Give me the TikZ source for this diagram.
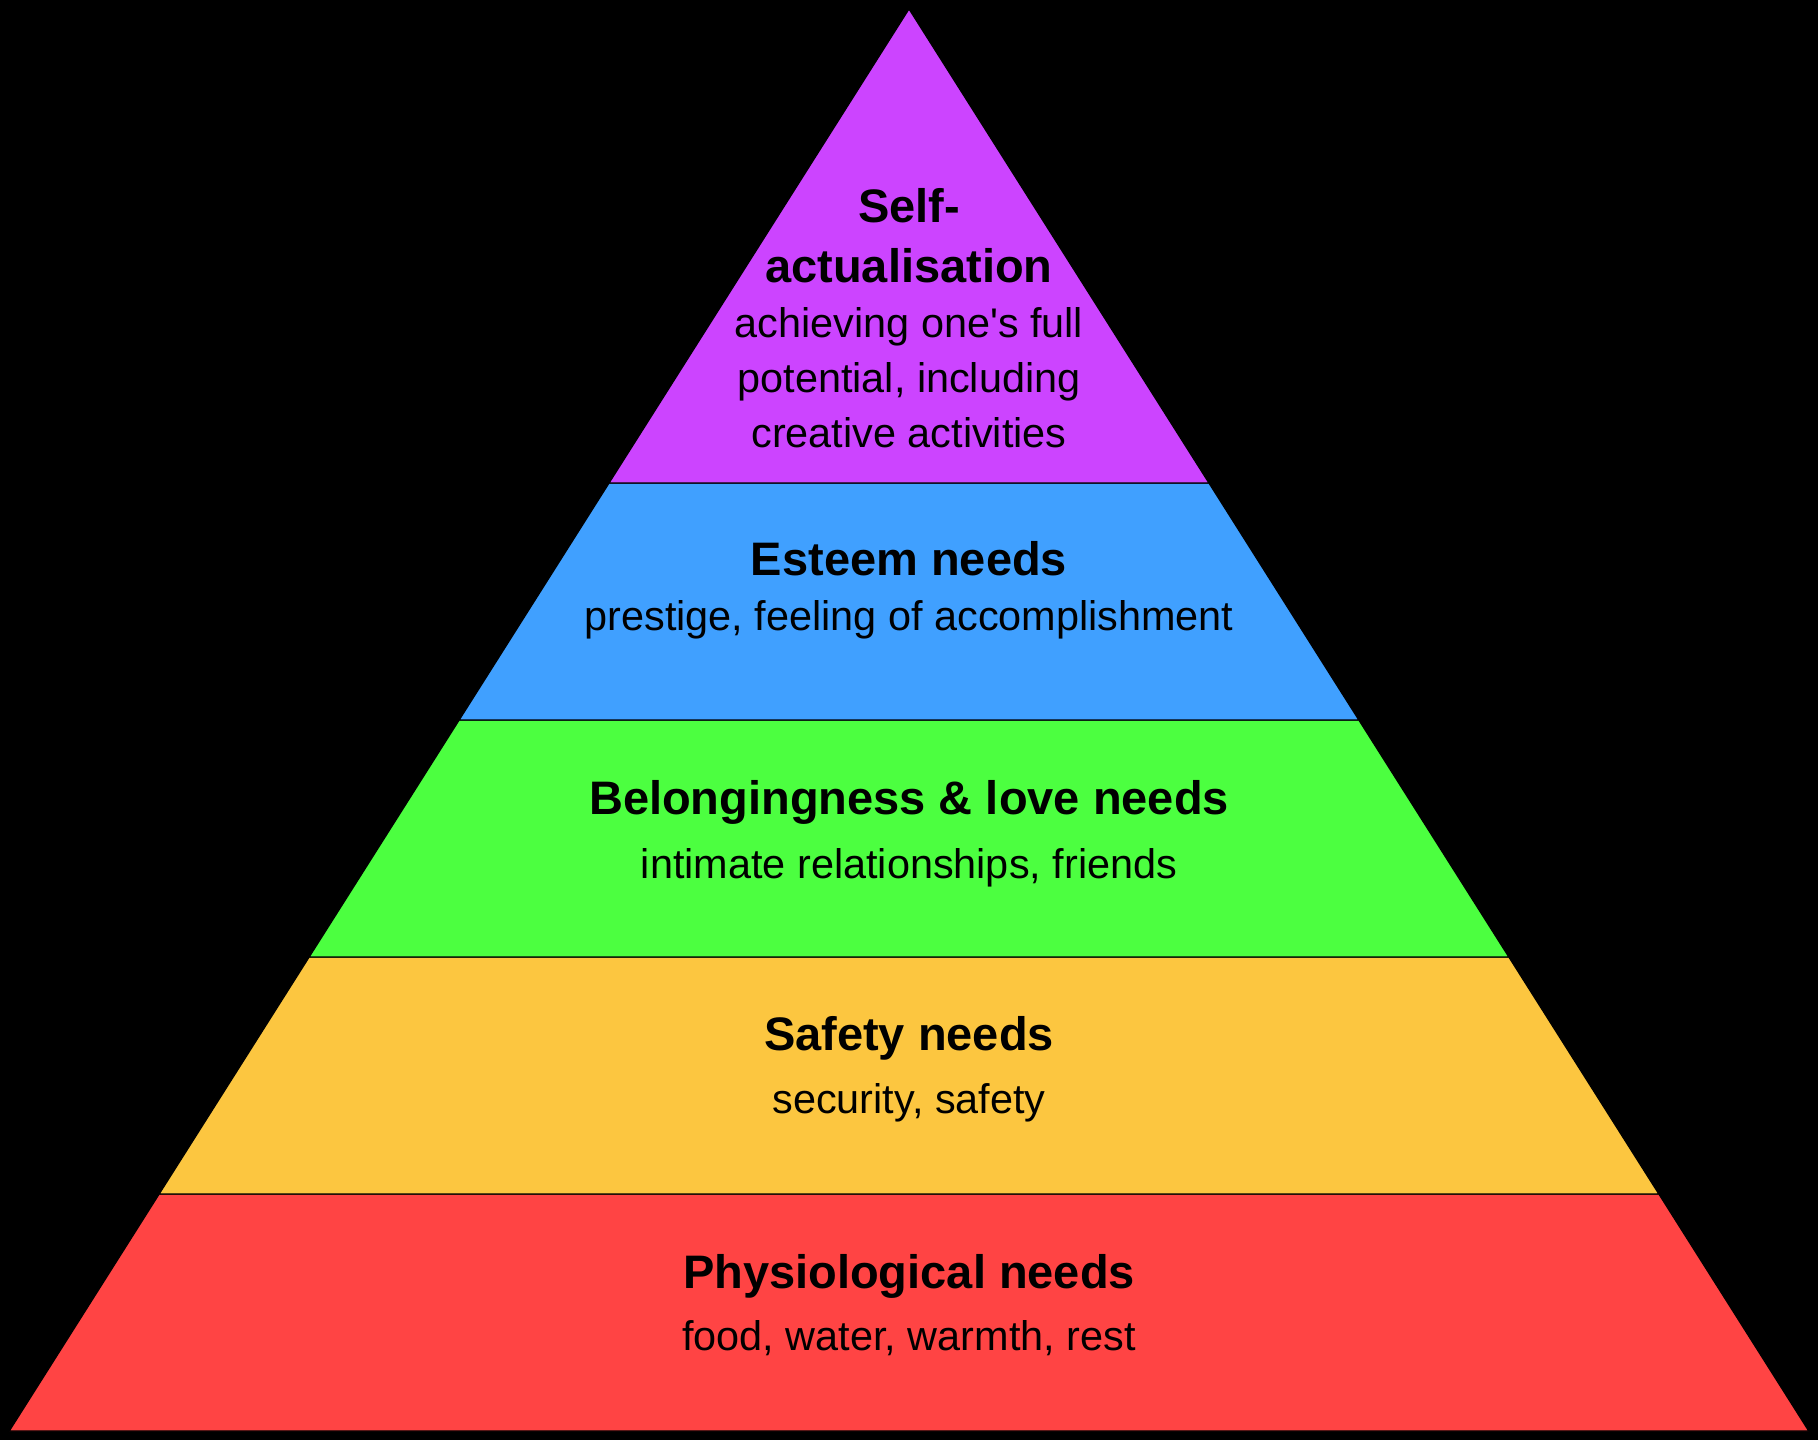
\documentclass[tikz,border=0pt]{standalone}
\usepackage{fontspec}
\setmainfont{Liberation Sans}
\definecolor{cpurple}{RGB}{204,68,255}
\definecolor{cblue}{RGB}{64,160,255}
\definecolor{cgreen}{RGB}{76,255,64}
\definecolor{cyellow}{RGB}{252,198,64}
\definecolor{cred}{RGB}{255,68,68}
\tikzset{
  band/.style={draw=black, line width=1.2pt, line join=miter},
  ttl/.style={anchor=base, inner sep=0pt, font=\fontsize{47}{55}\selectfont\bfseries},
  sub/.style={anchor=base, inner sep=0pt, font=\fontsize{41.4}{55}\selectfont},
}
\begin{document}
\begin{tikzpicture}[x=1pt,y=-1pt]
\fill[black] (0,0) rectangle (1818,1440);
\useasboundingbox (0,0) rectangle (1818,1440);
% bands
\filldraw[band, fill=cred]    (159.2,1194) -- (1658.8,1194) -- (1808.7,1431) -- (9.3,1431) -- cycle;
\filldraw[band, fill=cyellow] (309.2,957) -- (1508.8,957) -- (1658.8,1194) -- (159.2,1194) -- cycle;
\filldraw[band, fill=cgreen]  (459.2,720) -- (1358.8,720) -- (1508.8,957) -- (309.2,957) -- cycle;
\filldraw[band, fill=cblue]   (609.1,483) -- (1208.9,483) -- (1358.8,720) -- (459.2,720) -- cycle;
\filldraw[band, fill=cpurple] (909,9) -- (1208.9,483) -- (609.1,483) -- cycle;
% texts
\node[ttl] (sa1) at (909,222) {Self-};
\node[ttl] (sa2) at (909,282) {actualisation};
\node[sub] (sa3) at (909,337) {achieving one\textquotesingle s full};
\node[sub] (sa4) at (909,392) {potential, including};
\node[sub] (sa5) at (909,447) {creative activities};
\node[ttl] (es1) at (909,575) {Esteem needs};
\node[sub] (es2) at (909,630) {prestige, feeling of accomplishment};
\node[ttl] (bl1) at (909,814) {Belongingness \& love needs};
\node[sub] (bl2) at (909,878) {intimate relationships, friends};
\node[ttl] (sf1) at (909,1050) {Safety needs};
\node[sub] (sf2) at (909,1113) {security, safety};
\node[ttl] (ph1) at (909,1288) {Physiological needs};
\node[sub] (ph2) at (909,1350) {food, water, warmth, rest};
\end{tikzpicture}
\end{document}
